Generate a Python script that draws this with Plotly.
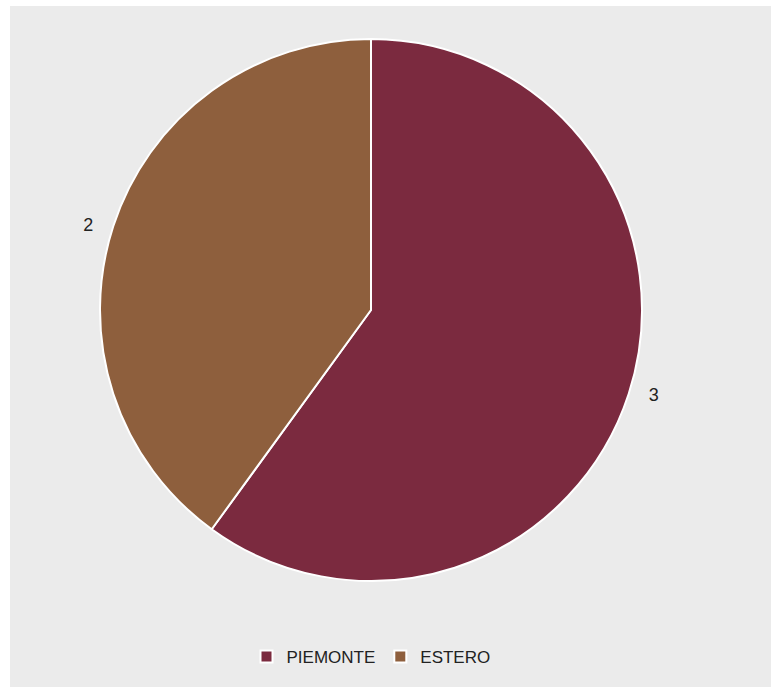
import plotly.graph_objects as go

labels = ["PIEMONTE", "ESTERO"]
values = [3, 2]
colors = ["#7B2A3F", "#8E5F3D"]
label_templates = ["   %{value}", "%{value}   "]

W, H = 771, 687
cx, cy, r = 371, 310, 271

fig = go.Figure(go.Pie(
    labels=labels,
    values=values,
    sort=False,
    direction="clockwise",
    rotation=0,
    marker=dict(colors=colors, line=dict(color="white", width=2)),
    texttemplate=label_templates,
    textposition="outside",
    textfont=dict(size=18, color="#222222", family="Liberation Sans, Arial, sans-serif"),
    hole=0,
    domain=dict(x=[(cx - r) / W, (cx + r) / W], y=[(H - cy - r) / H, (H - cy + r) / H]),
))

fig.update_layout(
    width=W, height=H,
    margin=dict(l=0, r=0, t=0, b=0),
    paper_bgcolor="#ebebeb",
    plot_bgcolor="#ebebeb",
    showlegend=True,
    legend=dict(
        orientation="h",
        x=371 / W, xanchor="center",
        y=(H - 657) / H, yanchor="middle",
        font=dict(size=17, color="#222222", family="Liberation Sans, Arial, sans-serif"),
        bgcolor="rgba(0,0,0,0)",
    ),
    shapes=[
        dict(type="rect", xref="paper", yref="paper", x0=0, x1=10 / W, y0=0, y1=1,
             fillcolor="white", line=dict(width=0), layer="below"),
        dict(type="rect", xref="paper", yref="paper", x0=0, x1=1, y0=1 - 6 / H, y1=1,
             fillcolor="white", line=dict(width=0), layer="below"),
    ],
)

fig.write_html(
    "out.html",
    config={"displayModeBar": False},
    post_script="document.body.style.margin='0';document.body.style.overflow='hidden';",
)
